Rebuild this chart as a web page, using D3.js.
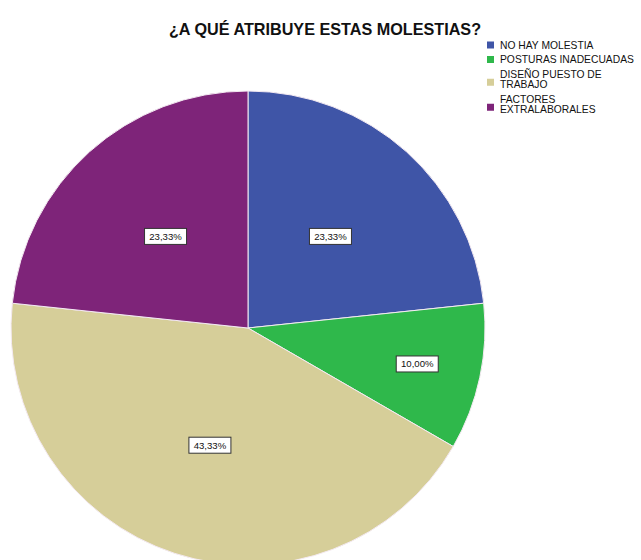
<!DOCTYPE html>
<html>
<head>
<meta charset="utf-8">
<script src="https://cdn.jsdelivr.net/npm/d3@7"></script>
<style>
  html, body { margin: 0; padding: 0; background: #ffffff; }
  svg { display: block; }
</style>
</head>
<body>
<svg id="chart" width="641" height="560"></svg>
<script>
// Category labels (legend lines) and percentages per slice
const categories = [
  ["NO HAY MOLESTIA"],
  ["POSTURAS INADECUADAS"],
  ["DISEÑO PUESTO DE", "TRABAJO"],
  ["FACTORES", "EXTRALABORALES"]
];
const percentages = [23.33, 10.00, 43.33, 23.33];
const colors = ["#3f55a7", "#2fb84b", "#d6ce99", "#7e2479"];
const title = "¿A QUÉ ATRIBUYE ESTAS MOLESTIAS?";

const svg = d3.select("#chart");
const W = 641, H = 560;
const cx = 248, cy = 328, R = 237;

// Title
svg.append("text")
  .attr("x", 325).attr("y", 35)
  .attr("text-anchor", "middle")
  .attr("font-family", "Liberation Sans, Arial, sans-serif")
  .attr("font-weight", "bold")
  .attr("font-size", 16.2)
  .attr("fill", "#111")
  .text(title);

const data = percentages.map((v, i) => ({ v, i }));
const pie = d3.pie().value(d => d.v).sort(null);
const arcs = pie(data);
const arc = d3.arc().innerRadius(0).outerRadius(R);

const g = svg.append("g").attr("transform", `translate(${cx},${cy})`);

g.selectAll("path.slice")
  .data(arcs)
  .join("path")
  .attr("class", "slice")
  .attr("d", arc)
  .attr("fill", d => colors[d.data.i])
  .attr("stroke", "#f4eaf2")
  .attr("stroke-width", 1);

// Value labels in white boxes; narrow slices get their label pushed outward
const fmt = v => v.toFixed(2).replace(".", ",") + "%";
const labels = g.selectAll("g.lbl")
  .data(arcs)
  .join("g")
  .attr("class", "lbl")
  .attr("transform", d => {
    const share = d.data.v / 100;
    const rr = share < 0.15 ? R * 0.73 : R * 0.52;
    const c = d3.arc().innerRadius(rr).outerRadius(rr).centroid(d);
    return `translate(${c[0]},${c[1]})`;
  });

labels.append("rect")
  .attr("x", -21).attr("y", -8)
  .attr("width", 42).attr("height", 16)
  .attr("fill", "#ffffff")
  .attr("stroke", "#333")
  .attr("stroke-width", 1);

labels.append("text")
  .attr("text-anchor", "middle")
  .attr("dy", "0.35em")
  .attr("font-family", "Liberation Sans, Arial, sans-serif")
  .attr("font-size", 9.6)
  .attr("fill", "#111")
  .text(d => fmt(d.data.v));

// Legend
const legend = svg.append("g");
let y = 45;
categories.forEach((lines, i) => {
  const item = legend.append("g");
  lines.forEach((ln, k) => {
    item.append("text")
      .attr("x", 500)
      .attr("y", y + k * 10.5)
      .attr("dy", "0.35em")
      .attr("font-family", "Liberation Sans, Arial, sans-serif")
      .attr("font-size", 10.3)
      .attr("fill", "#111")
      .text(ln);
  });
  const mid = y + (lines.length - 1) * 10.5 / 2 + (lines.length > 1 ? 3 : 0);
  item.append("rect")
    .attr("x", 487).attr("y", mid - 3.5)
    .attr("width", 7).attr("height", 7)
    .attr("fill", colors[i]);
  y += (lines.length - 1) * 10.5 + 14.5;
});
</script>
</body>
</html>
